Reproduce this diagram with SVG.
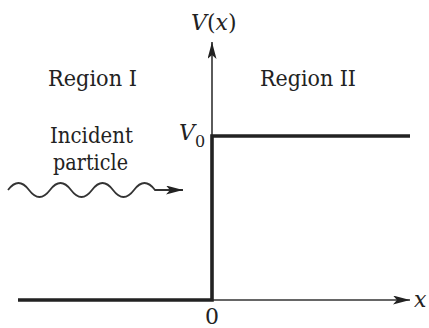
<svg xmlns="http://www.w3.org/2000/svg" width="429" height="328" viewBox="0 0 429 328">
<style>
text{font-family:'DejaVu Serif','Liberation Serif',serif;font-size:22px;fill:#222}
.i{font-style:italic}
.thin{stroke:#333;stroke-width:1.6;fill:none}
.wave{stroke:#333;stroke-width:1.8;fill:none}
.thick{stroke:#222;stroke-width:3.6;fill:none}
</style>
<defs>
<marker id="ah" markerWidth="18" markerHeight="10" refX="17" refY="4.5" orient="auto" markerUnits="userSpaceOnUse">
<path d="M0,0 L17,4.5 L0,9 L4,4.5 z" fill="#222"/>
</marker>
</defs>
<rect width="429" height="328" fill="#fff"/>
<g id="connectors">
<line class="thin" x1="212" y1="300" x2="212" y2="42" marker-end="url(#ah)"/>
<line class="thin" x1="212" y1="300" x2="410" y2="300" marker-end="url(#ah)"/>
<polyline class="thick" points="18,300 212,300 212,136 410,136"/>
<path class="wave" d="M8,190 Q18.5,176 29,190 Q39.5,204 50,190 Q60.5,176 71,190 Q81.5,204 92,190 Q102.5,176 113,190 Q123.5,204 134,190 Q144.5,176 155,190 L183,190" marker-end="url(#ah)"/>
</g>
<g id="label-vx"><text x="191" y="30" font-size="21"><tspan class="i">V</tspan>(<tspan class="i">x</tspan>)</text></g>
<g id="label-region1"><text x="48" y="86" textLength="89" lengthAdjust="spacingAndGlyphs">Region I</text></g>
<g id="label-region2"><text x="260" y="86" textLength="96" lengthAdjust="spacingAndGlyphs">Region II</text></g>
<g id="label-incident"><text x="50" y="143" textLength="83" lengthAdjust="spacingAndGlyphs">Incident</text><text x="53" y="170" textLength="75" lengthAdjust="spacingAndGlyphs">particle</text></g>
<g id="label-v0"><text x="179" y="140"><tspan class="i">V</tspan><tspan font-size="16" dy="7">0</tspan></text></g>
<g id="label-x"><text class="i" x="414" y="307">x</text></g>
<g id="label-0"><text x="212" y="324" text-anchor="middle">0</text></g>
</svg>
